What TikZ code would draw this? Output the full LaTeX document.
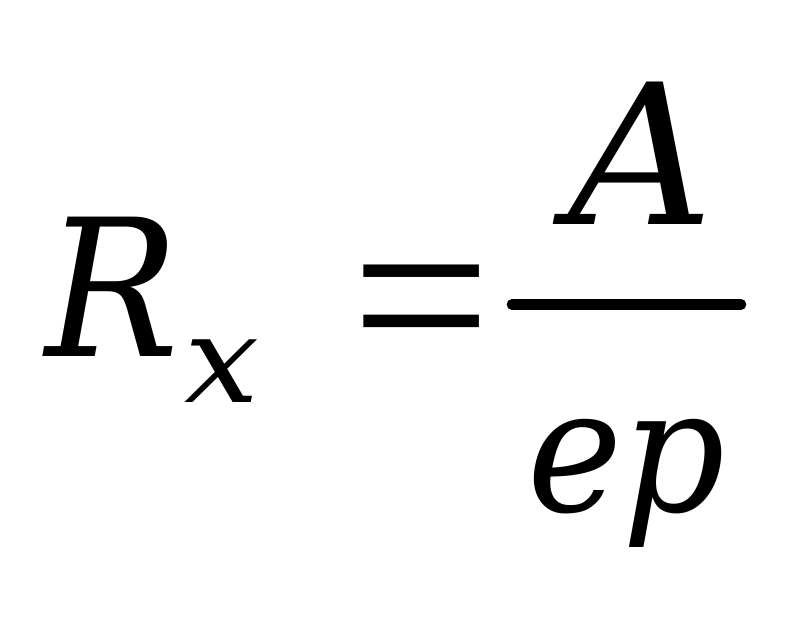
\documentclass[tikz,border=0pt]{standalone}
\usepackage{fontspec}
\usepackage{tikz}
\usepackage{xcolor}
\newfontfamily\formfont{DejaVu Serif}
\newfontfamily\relfont{Liberation Serif}

\begin{document}
\begin{tikzpicture}[x=0.025cm,y=-0.025cm]
\useasboundingbox (0,0) rectangle (796,628);
\node (R) at (45,357) [anchor=base west,inner sep=0pt,xscale=0.93,transform shape] {\fontsize{136}{140}\formfont\itshape R};
\node (sub) at (184,403) [anchor=base west,inner sep=0pt,xscale=1.1,transform shape] {\fontsize{86}{90}\formfont\itshape x};
\node (eq) at (422,322) [inner sep=0pt,xscale=1.07,yscale=1.08,transform shape] {\fontsize{165}{170}\relfont =};
\node (num) at (568,225) [anchor=base west,inner sep=0pt,xscale=1.03,transform shape] {\fontsize{139}{145}\formfont\itshape A};
\node (den) at (527,512) [anchor=base west,inner sep=0pt,xscale=0.93,transform shape] {\fontsize{123}{130}\formfont\itshape ep};
\coordinate (barl) at (512,304.5);
\coordinate (barr) at (741,304.5);
\draw[line width=7.6pt,line cap=round] (barl) -- (barr);
\end{tikzpicture}
\end{document}
